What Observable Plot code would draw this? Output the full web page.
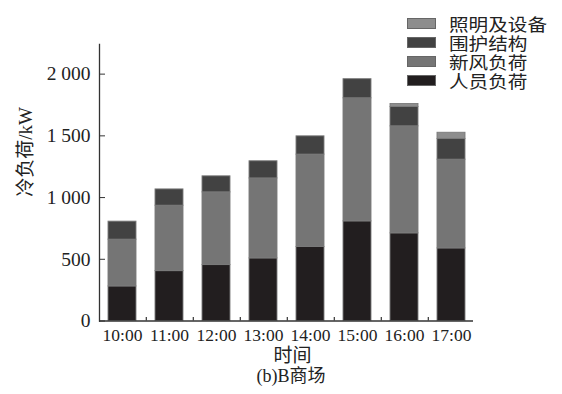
<!DOCTYPE html>
<html>
<head>
<meta charset="utf-8">
<script src="https://cdn.jsdelivr.net/npm/d3@7"></script>
<script src="https://cdn.jsdelivr.net/npm/@observablehq/plot@0.6"></script>
<style>
  html, body { margin: 0; padding: 0; background: #fff; }
  #wrap { position: relative; width: 562px; height: 394px; font-family: "Liberation Serif", "Noto Sans CJK SC", serif; }
  #legend { position: absolute; left: 407px; top: 14px; }
  .row { display: flex; align-items: center; height: 19px; }
  .sw { width: 29px; height: 11px; border: 1px solid #666; box-sizing: border-box; margin-right: 13px; flex: none; }
  .lab { font-family: "Noto Sans CJK SC", sans-serif; font-size: 17.5px; line-height: 18px; color: #222; display: inline-block; white-space: nowrap; transform: scaleX(1.12); transform-origin: left center; }
</style>
</head>
<body>
<div id="wrap"></div>
<script>
// Hourly cooling load of mall B, split by component (kW)
const hours = ["10:00", "11:00", "12:00", "13:00", "14:00", "15:00", "16:00", "17:00"];
const occupants   = [280, 404, 453, 507, 599, 807, 710, 588];   // 人员负荷
const freshAir    = [379, 530, 589, 648, 749, 997, 867, 719];   // 新风负荷
const envelope    = [146, 132, 130, 139, 148, 155, 157, 168];   // 围护结构
const lighting    = [0, 0, 0, 0, 0, 0, 24, 50];                 // 照明及设备

const seriesNames  = ["人员负荷", "新风负荷", "围护结构", "照明及设备"];
const seriesColors = ["#221e1f", "#757575", "#424242", "#8d8d8d"];
const yTicks = [0, 500, 1000, 1500, 2000];

const seriesValues = [occupants, freshAir, envelope, lighting];
const rows = [];
seriesNames.forEach((s, k) => hours.forEach((h, i) => rows.push({hour: h, series: s, value: seriesValues[k][i]})));

const fmt = d => d >= 1000 ? `${Math.floor(d / 1000)} ${String(d % 1000).padStart(3, "0")}` : String(d);
const serif = "Liberation Serif, Noto Sans CJK SC, serif";

const chart = Plot.plot({
  width: 562,
  height: 394,
  marginLeft: 99,
  marginRight: 89,
  marginTop: 44,
  marginBottom: 73.5,
  style: {fontFamily: serif, fontSize: "18px", color: "#222", background: "#fff"},
  x: {domain: hours, range: [96.5, 477], paddingInner: 0.4, paddingOuter: 0.2},
  y: {domain: [0, 2240]},
  color: {domain: seriesNames, range: seriesColors},
  marks: [
    Plot.barY(rows, Plot.stackY({x: "hour", y: "value", fill: "series", order: seriesNames, stroke: "#7a7a7a", strokeWidth: 0.9})),
    Plot.frame({anchor: "left", stroke: "#333", strokeWidth: 1.3}),
    Plot.ruleY([0], {stroke: "#333", strokeWidth: 1.3}),
    // small ticks between the hour bands
    Plot.ruleX(hours.slice(0, -1), {x: d => d, dx: 23.8, y1: 0, y2: 28, stroke: "#333", strokeWidth: 1.2}),
    Plot.axisY({ticks: yTicks, tickFormat: fmt, tickSize: -6, tickPadding: 15, stroke: "#333", label: null, fontSize: 19.5}),
    Plot.axisX({tickSize: 0, tickPadding: 8, label: null, fontSize: 17.5}),
    Plot.text(["冷负荷/kW"], {frameAnchor: "left", dx: -74, dy: 14, rotate: -90, fontSize: 19, fill: "#222"}),
    Plot.text(["时间"], {frameAnchor: "bottom", dx: 6, dy: 41, fontSize: 19, fill: "#222"}),
    Plot.text(["(b)B商场"], {frameAnchor: "bottom", dx: 4.5, dy: 61, fontSize: 18, fill: "#222"})
  ]
});

const wrap = document.getElementById("wrap");
wrap.appendChild(chart);

// legend, top entry is the top of each stack
const legend = document.createElement("div");
legend.id = "legend";
seriesNames.slice().reverse().forEach(name => {
  const row = document.createElement("div");
  row.className = "row";
  const sw = document.createElement("div");
  sw.className = "sw";
  sw.style.background = seriesColors[seriesNames.indexOf(name)];
  const lab = document.createElement("span");
  lab.className = "lab";
  lab.textContent = name;
  row.append(sw, lab);
  legend.appendChild(row);
});
wrap.appendChild(legend);
</script>
</body>
</html>
